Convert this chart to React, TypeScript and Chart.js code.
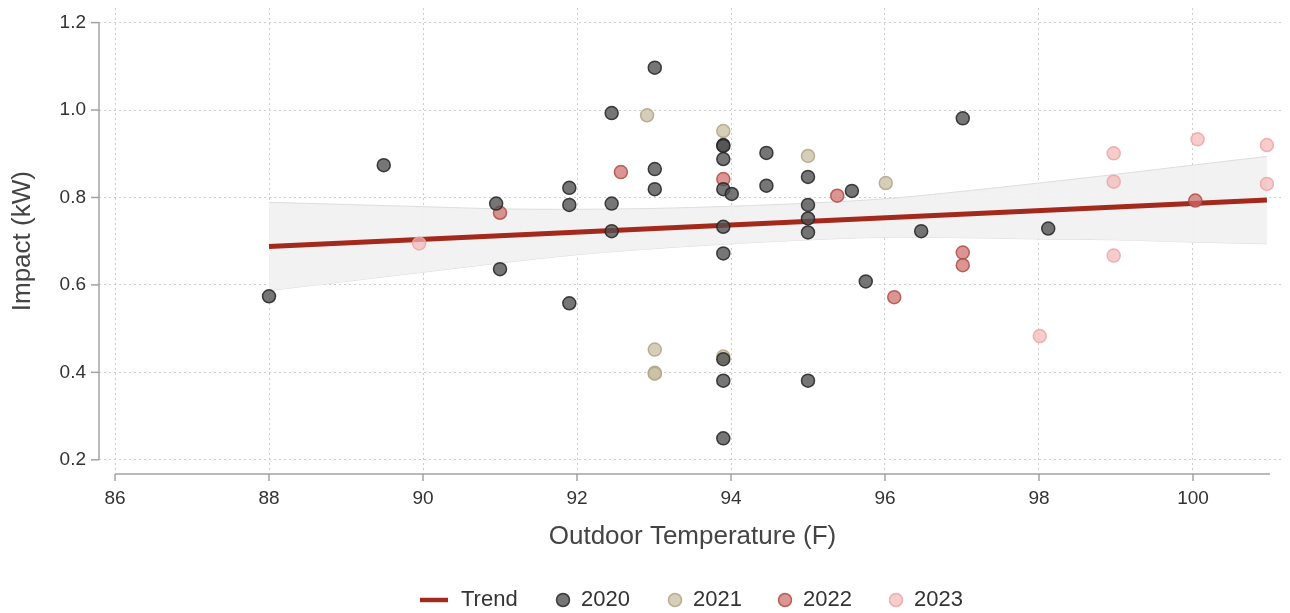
import React, { useEffect, useRef } from 'react';
import { Chart, registerables } from 'chart.js';

Chart.register(...registerables);

// ---------- data ----------
const xTickValues = [86, 88, 90, 92, 94, 96, 98, 100];
const yTickValues = [0.2, 0.4, 0.6, 0.8, 1.0, 1.2];
const years = ['2020', '2021', '2022', '2023'];

const x2020 = [88.0, 89.49, 90.95, 91.0, 91.9, 91.9, 91.9, 92.45, 92.45, 92.45, 93.01, 93.01, 93.01, 93.9, 93.9, 93.9, 93.9, 94.01, 93.9, 93.9, 93.9, 93.9, 93.9, 94.46, 94.46, 95.0, 95.0, 95.0, 95.0, 95.0, 95.57, 95.75, 96.47, 97.01, 98.12];
const y2020 = [0.574, 0.874, 0.786, 0.636, 0.822, 0.783, 0.558, 0.993, 0.786, 0.723, 1.097, 0.865, 0.819, 0.920, 0.918, 0.888, 0.819, 0.808, 0.733, 0.672, 0.430, 0.381, 0.249, 0.902, 0.827, 0.847, 0.783, 0.752, 0.720, 0.381, 0.815, 0.608, 0.723, 0.981, 0.729];

const x2021 = [92.91, 93.9, 95.0, 96.01, 93.01, 93.01, 93.01, 93.9];
const y2021 = [0.988, 0.952, 0.895, 0.833, 0.452, 0.399, 0.397, 0.436];

const x2022 = [91.0, 92.57, 93.9, 95.38, 96.12, 97.01, 97.01, 100.03];
const y2022 = [0.765, 0.858, 0.842, 0.804, 0.572, 0.674, 0.645, 0.793];

const x2023 = [89.95, 98.01, 98.97, 98.97, 98.97, 100.06, 100.96, 100.96];
const y2023 = [0.695, 0.483, 0.901, 0.836, 0.667, 0.933, 0.920, 0.831];

const trendX = [88, 100.96];
const trendY = [0.688, 0.794];

const bandX = [88, 89, 90, 91, 92, 93, 94, 95, 96, 97, 98, 99, 100, 100.96];
const bandUpper = [0.789, 0.784, 0.779, 0.774, 0.773, 0.775, 0.780, 0.787, 0.797, 0.814, 0.833, 0.853, 0.874, 0.894];
const bandLower = [0.587, 0.608, 0.629, 0.650, 0.669, 0.683, 0.694, 0.703, 0.709, 0.708, 0.705, 0.703, 0.698, 0.694];

// ---------- styles ----------
const FONT = "'Liberation Sans', Arial, sans-serif";
const TREND_COLOR = '#a3291d';
const AXIS_COLOR = '#a3a3a3';
const yearStyles = [
  { bg: 'rgba(80,80,80,0.78)', border: 'rgba(35,35,35,0.85)' },
  { bg: 'rgba(200,190,160,0.75)', border: 'rgba(175,165,135,0.85)' },
  { bg: 'rgba(205,110,105,0.72)', border: 'rgba(175,75,70,0.85)' },
  { bg: 'rgba(244,185,185,0.72)', border: 'rgba(238,165,165,0.85)' },
];

const zip = (xs: number[], ys: number[]) => xs.map((v, i) => ({ x: v, y: ys[i] }));

const decorPlugin = {
  id: 'decor',
  afterDraw(chart: any) {
    const { ctx, chartArea, scales } = chart;
    const xs = scales.x;
    const ys = scales.y;
    ctx.save();
    // axis lines
    ctx.strokeStyle = AXIS_COLOR;
    ctx.lineWidth = 1.5;
    ctx.beginPath();
    ctx.moveTo(chartArea.left, ys.getPixelForValue(1.2));
    ctx.lineTo(chartArea.left, ys.getPixelForValue(0.2));
    ctx.stroke();
    ctx.beginPath();
    ctx.moveTo(xs.getPixelForValue(86), chartArea.bottom);
    ctx.lineTo(xs.getPixelForValue(101), chartArea.bottom);
    ctx.stroke();

    // tick marks + labels
    ctx.font = `19px ${FONT}`;
    ctx.fillStyle = '#333333';
    ctx.textBaseline = 'middle';
    ctx.textAlign = 'right';
    yTickValues.forEach((v) => {
      const py = ys.getPixelForValue(v);
      ctx.beginPath();
      ctx.moveTo(chartArea.left - 8, py);
      ctx.lineTo(chartArea.left, py);
      ctx.stroke();
      ctx.fillText(v.toFixed(1), chartArea.left - 13, py);
    });
    ctx.textAlign = 'center';
    xTickValues.forEach((v) => {
      const px = xs.getPixelForValue(v);
      ctx.beginPath();
      ctx.moveTo(px, chartArea.bottom);
      ctx.lineTo(px, chartArea.bottom + 7);
      ctx.stroke();
      ctx.fillText(String(v), px, chartArea.bottom + 25);
    });

    // axis titles
    ctx.fillStyle = '#444444';
    ctx.font = `26px ${FONT}`;
    ctx.textAlign = 'center';
    ctx.textBaseline = 'middle';
    const midX = (xs.getPixelForValue(86) + xs.getPixelForValue(101)) / 2;
    ctx.fillText('Outdoor Temperature (F)', midX, 537);
    const midY = (ys.getPixelForValue(1.2) + ys.getPixelForValue(0.2)) / 2;
    ctx.save();
    ctx.translate(23, midY);
    ctx.rotate(-Math.PI / 2);
    ctx.fillText('Impact (kW)', 0, 0);
    ctx.restore();

    // legend
    const ly = 600;
    ctx.font = `22px ${FONT}`;
    ctx.textAlign = 'left';
    ctx.fillStyle = '#333333';
    ctx.strokeStyle = TREND_COLOR;
    ctx.lineWidth = 4.5;
    ctx.beginPath();
    ctx.moveTo(420, ly);
    ctx.lineTo(448, ly);
    ctx.stroke();
    ctx.fillText('Trend', 461, ly);
    const circleX = [563, 675, 785, 896];
    years.forEach((yr, i) => {
      ctx.beginPath();
      ctx.arc(circleX[i], ly, 6.5, 0, Math.PI * 2);
      ctx.fillStyle = yearStyles[i].bg;
      ctx.fill();
      ctx.lineWidth = 1.5;
      ctx.strokeStyle = yearStyles[i].border;
      ctx.stroke();
      ctx.fillStyle = '#333333';
      ctx.fillText(yr, circleX[i] + 18, ly);
    });
    ctx.restore();
  },
};

export default function App() {
  const canvasRef = useRef<HTMLCanvasElement | null>(null);

  useEffect(() => {
    document.body.style.margin = '0';
    const canvas = canvasRef.current;
    if (!canvas) return;

    const pointDatasets = years.map((yr, i) => {
      const xs = [x2020, x2021, x2022, x2023][i];
      const ysArr = [y2020, y2021, y2022, y2023][i];
      return {
        label: yr,
        data: zip(xs, ysArr),
        backgroundColor: yearStyles[i].bg,
        borderColor: yearStyles[i].border,
        borderWidth: 1.5,
        pointRadius: 6.5,
        showLine: false,
        order: 0,
      };
    });

    const gridOpts = {
      color: '#cccccc',
      lineWidth: 1,
      drawTicks: false,
    };

    const chart = new Chart(canvas, {
      type: 'scatter',
      data: {
        datasets: [
          ...pointDatasets,
          {
            label: 'Trend',
            data: zip(trendX, trendY),
            showLine: true,
            borderColor: TREND_COLOR,
            borderWidth: 5,
            pointRadius: 0,
            fill: false,
            order: 1,
          },
          {
            label: 'upper',
            data: zip(bandX, bandUpper),
            showLine: true,
            borderColor: '#dddddd',
            borderWidth: 1,
            backgroundColor: 'rgba(241,241,241,0.92)',
            pointRadius: 0,
            fill: '+1',
            tension: 0.3,
            order: 2,
          },
          {
            label: 'lower',
            data: zip(bandX, bandLower),
            showLine: true,
            borderColor: '#dddddd',
            borderWidth: 1,
            pointRadius: 0,
            fill: false,
            tension: 0.3,
            order: 2,
          },
        ],
      } as any,
      options: {
        animation: false,
        responsive: true,
        maintainAspectRatio: false,
        layout: { padding: { top: 2.5, right: 7, left: 0, bottom: 0 } },
        plugins: {
          legend: { display: false },
          tooltip: { enabled: false },
        },
        scales: {
          x: {
            type: 'linear',
            min: 85.792,
            max: 101.156,
            afterBuildTicks: (s: any) => {
              s.ticks = xTickValues.map((v) => ({ value: v }));
            },
            afterFit: (s: any) => {
              s.height = 139;
            },
            border: { display: false, dash: [2, 3] },
            grid: gridOpts,
            ticks: { display: false },
          },
          y: {
            type: 'linear',
            min: 0.1675,
            max: 1.2334,
            afterBuildTicks: (s: any) => {
              s.ticks = yTickValues.map((v) => ({ value: v }));
            },
            afterFit: (s: any) => {
              s.width = 99;
            },
            border: { display: false, dash: [2, 3] },
            grid: gridOpts,
            ticks: { display: false },
          },
        },
      } as any,
      plugins: [decorPlugin],
    });

    return () => chart.destroy();
  }, []);

  return (
    <div style={{ position: 'absolute', left: 0, top: 0, width: 1290, height: 613, background: '#ffffff' }}>
      <canvas ref={canvasRef} />
    </div>
  );
}
